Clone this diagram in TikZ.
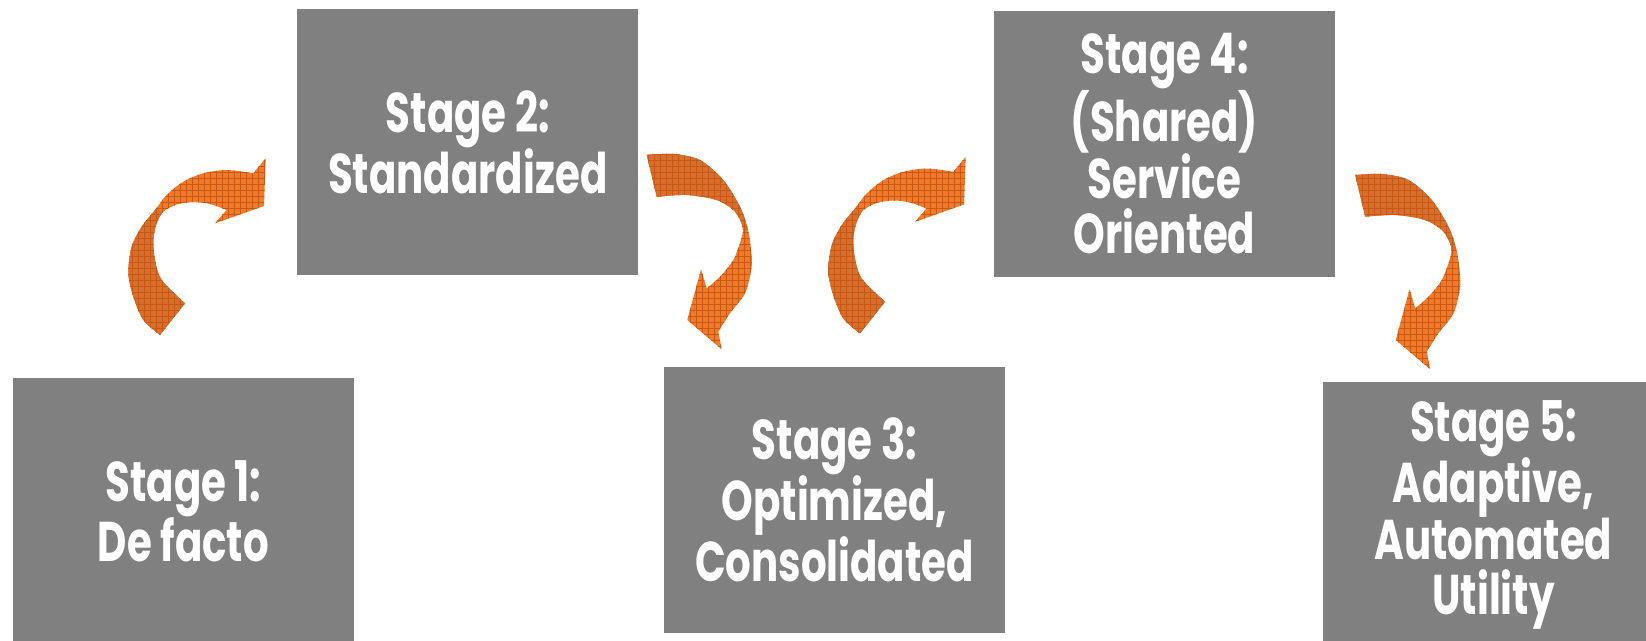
\documentclass[tikz,border=0pt]{standalone}
\usepackage{fontspec}
\newfontfamily\stagefont[FakeStretch=0.72]{Poppins}
\usetikzlibrary{patterns.meta}
\definecolor{boxgray}{RGB}{128,128,128}
\definecolor{arrlight}{RGB}{240,122,40}
\definecolor{arrdark}{RGB}{214,110,45}
\definecolor{arrline}{RGB}{200,88,20}
\def\upArrowPath{(160,335) -- plot[smooth] coordinates {(160,335)(143.3,320)(133.3,296.7)(128.3,273.3)(131.7,246.7)(141.7,226.7)(155,210)(166.7,195)(183.3,181.7)(203.3,173.3)(226.7,170)(253.3,173.3)} -- (265.7,158.3) -- (264,206) -- (215,223.3) -- (226.5,210) -- plot[smooth] coordinates {(226.5,210)(210,204)(193.3,202)(176.7,204.5)(163.3,211.7)(156.7,223.3)(153.3,240)(155,260)(161.7,280)(185,303.3)} -- cycle}
\def\downArrowPath{(646.7,155) -- plot[smooth] coordinates {(646.7,155)(673.3,154)(700,160)(723.3,180)(740,206.7)(747.5,228)(750.5,245)(751.7,266.7)(745,293.3)(730,313.3)(718.3,331.7)} -- (721.7,349.3) -- (687.3,320) -- (701,269.3) -- (706.7,288.3) -- plot[smooth] coordinates {(706.7,288.3)(720,276.7)(733.3,260)(741,240)(742.7,227.3)(735,211.7)(716.7,200)(686.7,195)(656.7,196.7)} -- cycle}
\tikzset{
  stagebox/.style={fill=boxgray, minimum width=341pt, minimum height=266pt,
    inner sep=0pt, text=white, align=center,
    font=\stagefont\bfseries\fontsize{56}{55}\selectfont},
  texture/.style={
    postaction={pattern={Lines[angle=0,distance=6pt,line width=.8pt]},pattern color=arrline},
    postaction={pattern={Lines[angle=90,distance=6pt,line width=.8pt]},pattern color=arrline}},
  curveup/.pic={
    \fill[arrlight,texture] \upArrowPath;
    \begin{scope}
      \clip (40,91) -- (300,351) -- (40,351) -- cycle;
      \fill[arrdark,texture] \upArrowPath;
    \end{scope}
  },
  curvedown/.pic={
    \fill[arrlight,texture] \downArrowPath;
    \begin{scope}
      \clip (600,100) rectangle (800,229);
      \fill[arrdark,texture] \downArrowPath;
    \end{scope}
  }
}
\begin{document}
\begin{tikzpicture}[x=1pt,y=-1pt]
\useasboundingbox (0,0) rectangle (1646,640);
\clip (0,0) rectangle (1646,640);
\fill[white] (0,0) rectangle (1646,640);
% stages
\node[stagebox] (s1) at (183.5,511) {Stage 1:\\De facto};
\node[stagebox] (s2) at (467.8,142) {Stage 2:\\Standardized};
\node[stagebox] (s3) at (834.5,500) {Stage 3:\\Optimized,\\Consolidated};
\node[stagebox] (s4) at (1164.5,143.8) {Stage 4:\\(Shared)\\Service\\Oriented};
\node[stagebox] (s5) at (1493.5,515) {Stage 5:\\Adaptive,\\Automated\\Utility};
% curved block arrows
\pic at (0,0) {curveup};
\pic at (0,0) {curvedown};
\pic at (700,-1.5) {curveup};
\pic at (708.5,20) {curvedown};
\end{tikzpicture}
\end{document}
